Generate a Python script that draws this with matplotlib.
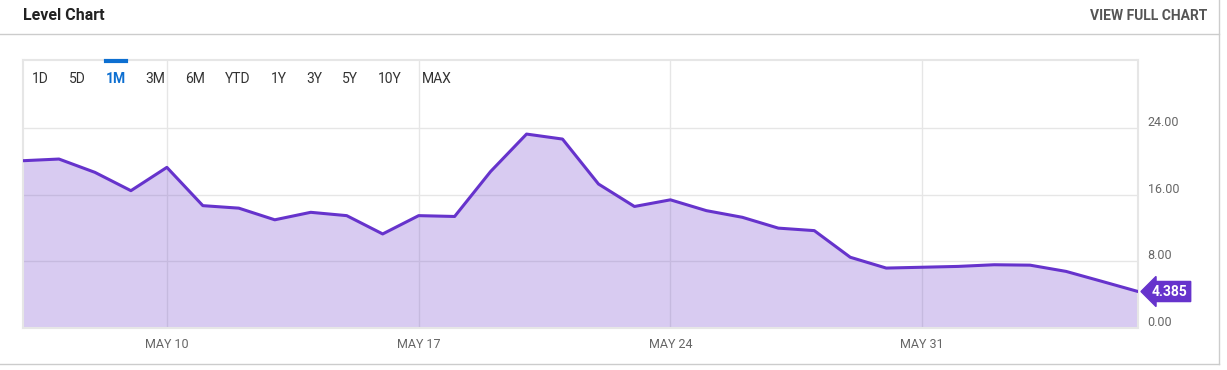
import matplotlib
matplotlib.use('Agg')
import matplotlib.pyplot as plt
import matplotlib.transforms as mtransforms
import pandas as pd
from matplotlib.lines import Line2D

plt.rcParams['font.family'] = ['Roboto', 'DejaVu Sans']

# data (daily)
dates = pd.date_range('2021-05-06', '2021-06-06', freq='D')
values = [20.1, 20.3, 18.7, 16.5, 19.3, 14.7, 14.4, 13.0, 13.9, 13.5, 11.3,
          13.5, 13.4, 18.8, 23.3, 22.7, 17.3, 14.6, 15.4, 14.1, 13.3, 12.0,
          11.7, 8.5, 7.2, 7.3, 7.4, 7.6, 7.55, 6.8, 5.6, 4.385]
ytick_vals = [0, 8, 16, 24]
xtick_dates = pd.to_datetime(['2021-05-10', '2021-05-17', '2021-05-24', '2021-05-31'])
xtick_labels = ['MAY 10', 'MAY 17', 'MAY 24', 'MAY 31']
menu_items = ['1D', '5D', '1M', '3M', '6M', 'YTD', '1Y', '3Y', '5Y', '10Y', 'MAX']
menu_x = [40, 77, 116, 155, 195, 238, 279, 314, 350, 390, 437]

W, H = 1227, 370
fig = plt.figure(figsize=(W / 100, H / 100), dpi=100)
fig.patch.set_facecolor('white')

def fx(px):
    return px / W

def fy(py):
    return 1 - py / H

# frame lines of the widget
fig.add_artist(Line2D([0, fx(1219)], [fy(34), fy(34)], color='#cccccc', lw=1))
fig.add_artist(Line2D([fx(1219), fx(1219)], [fy(0), fy(364)], color='#cccccc', lw=1))
fig.add_artist(Line2D([0, fx(1219)], [fy(364), fy(364)], color='#cccccc', lw=1))

fig.text(fx(23), fy(16), 'Level Chart', fontsize=11.5, fontweight='bold',
         color='#222222', va='center', ha='left')
fig.text(fx(1207), fy(16), 'VIEW FULL CHART', fontsize=10, fontweight='bold',
         color='#555555', va='center', ha='right')

ax = fig.add_axes([fx(23), fy(328), fx(1138) - fx(23), fy(60) - fy(328)])
ax.set_xlim(dates[0], dates[-1])
ax.set_ylim(0, 32.2)

ax.set_axisbelow(True)
ax.grid(True, color='#e6e6e6', lw=1)
ax.fill_between(dates, values, 0, color='#7a4fd0', alpha=0.29, lw=0, zorder=2)
ax.plot(dates, values, color='#6633cc', lw=2.2, zorder=3)

for s in ['left', 'top', 'right', 'bottom']:
    ax.spines[s].set_color('#e6e6e6')
    ax.spines[s].set_linewidth(1.5)

ax.set_yticks(ytick_vals)
ax.set_yticklabels(['%.2f' % v for v in ytick_vals])
ax.yaxis.tick_right()
ax.set_xticks(xtick_dates)
ax.set_xticklabels(xtick_labels)
ax.tick_params(axis='both', length=0, labelsize=9, labelcolor='#666666')
ax.tick_params(axis='y', pad=7)
ax.tick_params(axis='x', pad=7)

# y labels sit a little above their gridlines
shift = mtransforms.ScaledTranslation(0, 7 / 100, fig.dpi_scale_trans)
for lab in ax.get_yticklabels():
    lab.set_transform(lab.get_transform() + shift)

# last value tag
ax.annotate('%.3f' % values[-1], xy=(dates[-1], values[-1]),
            xytext=(10, 0), textcoords='offset points', ha='left', va='center',
            fontsize=10, fontweight='bold', color='white', annotation_clip=False,
            bbox=dict(boxstyle='larrow,pad=0.22', fc='#6633cc', ec='#6633cc'))

# period menu
for label, x in zip(menu_items, menu_x):
    sel = label == '1M'
    fig.text(fx(x), fy(79), label, fontsize=10, ha='center', va='center',
             color='#0d6fd1' if sel else '#333333',
             fontweight='bold' if sel else 'normal')
fig.add_artist(Line2D([fx(106), fx(126)], [fy(61), fy(61)], color='#0d6fd1', lw=3))

fig.savefig('out.png', dpi=100, facecolor='white')
